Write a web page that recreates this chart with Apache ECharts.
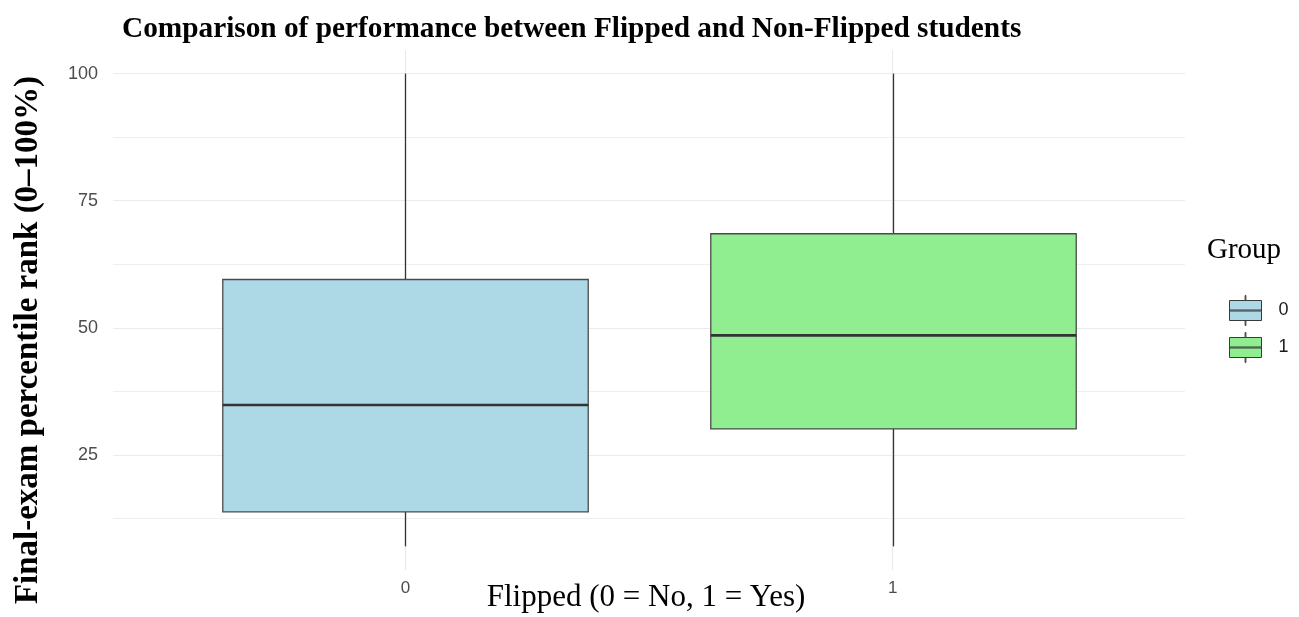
<!DOCTYPE html>
<html>
<head>
<meta charset="utf-8">
<script src="https://cdn.jsdelivr.net/npm/echarts@6/dist/echarts.min.js"></script>
<style>
html,body{margin:0;padding:0;background:#fff;}
#chart{width:1299px;height:617px;}
</style>
</head>
<body>
<div id="chart"></div>
<script>
// ---- data ----
const groups = ['0', '1'];
const groupColors = ['#ADD8E6', '#90EE90'];
const whiskerLow = [7.0, 7.0];
const q1 = [13.8, 30.1];
const medians = [34.8, 48.5];
const q3 = [59.5, 68.5];
const whiskerHigh = [100, 100];
const yTickLabels = [25, 50, 75, 100];
const yMinorGrid = [12.5, 37.5, 62.5, 87.5];

const chart = echarts.init(document.getElementById('chart'), null, {renderer: 'canvas'});

function renderBox(params, api) {
  const x = api.value(0);
  const lo = api.coord([x, api.value(1)]);
  const b1 = api.coord([x, api.value(2)]);
  const md = api.coord([x, api.value(3)]);
  const b3 = api.coord([x, api.value(4)]);
  const hi = api.coord([x, api.value(5)]);
  const w = api.size([0.75, 0])[0];
  const cx = Math.round(lo[0]) + 0.5;
  const left = cx - w / 2;
  const color = api.visual('color');
  return {
    type: 'group',
    children: [
      {type: 'line', shape: {x1: cx, y1: hi[1], x2: cx, y2: b3[1]}, style: {stroke: '#333', lineWidth: 1.3}},
      {type: 'line', shape: {x1: cx, y1: b1[1], x2: cx, y2: lo[1]}, style: {stroke: '#333', lineWidth: 1.3}},
      {type: 'rect', shape: {x: left, y: b3[1], width: w, height: b1[1] - b3[1]}, style: {fill: color, stroke: '#4a4a4a', lineWidth: 1.3}},
      {type: 'line', shape: {x1: left, y1: md[1], x2: left + w, y2: md[1]}, style: {stroke: '#333', lineWidth: 2.6}}
    ]
  };
}

const gridLines = [];
yTickLabels.forEach(v => gridLines.push({yAxis: v, lineStyle: {width: 1.2}}));
yMinorGrid.forEach(v => gridLines.push({yAxis: v, lineStyle: {width: 0.8}}));
[1, 2].forEach(v => gridLines.push({xAxis: v, lineStyle: {width: 1.2}}));

const series = [{
  type: 'line', name: '_grid', data: [], z: 0, silent: true,
  markLine: {silent: true, z: 0, symbol: ['none', 'none'], label: {show: false},
    lineStyle: {color: '#ebebeb', type: 'solid'}, animation: false, data: gridLines}
}];
groups.forEach((g, i) => {
  series.push({
    type: 'custom', name: g, z: 3,
    itemStyle: {color: groupColors[i]},
    renderItem: renderBox,
    encode: {x: 0, y: [1, 2, 3, 4, 5]},
    data: [[i + 1, whiskerLow[i], q1[i], medians[i], q3[i], whiskerHigh[i]]]
  });
});

const iconPath = 'path://M15.6 0H16.4V5H15.6Z M0 5H32V25H0Z M15.6 25H16.4V30H15.6Z M0 14.5H32V15.5H0Z';

chart.setOption({
  animation: false,
  backgroundColor: '#fff',
  grid: {left: 113, right: 114, top: 50, bottom: 47, containLabel: false, outerBoundsMode: 'none'},
  xAxis: {
    type: 'value', min: 0.4, max: 2.6,
    axisLine: {show: false}, axisTick: {show: false}, splitLine: {show: false},
    axisLabel: {customValues: [1, 2], formatter: v => groups[Math.round(v) - 1], margin: 10,
      color: '#4d4d4d', fontSize: 17, fontFamily: 'Liberation Sans, Arial, sans-serif'}
  },
  yAxis: {
    type: 'value', min: 2.35, max: 104.65,
    axisLine: {show: false}, axisTick: {show: false}, splitLine: {show: false},
    axisLabel: {customValues: yTickLabels, margin: 15, color: '#4d4d4d', fontSize: 18, padding: [5, 0, 0, 0],
      fontFamily: 'Liberation Sans, Arial, sans-serif'}
  },
  legend: {
    data: groups, orient: 'vertical', left: 1224, top: 290,
    itemWidth: 32, itemHeight: 30, itemGap: 6,
    icon: iconPath,
    itemStyle: {borderColor: '#3a3a3a', borderWidth: 1},
    textStyle: {fontSize: 18, color: '#1a1a1a', fontFamily: 'Liberation Sans, Arial, sans-serif', padding: [0, 0, 0, 12]}
  },
  graphic: [
    {type: 'text', left: 122, top: 15, style: {text: 'Comparison of performance between Flipped and Non-Flipped students',
      font: 'bold 29.3px "Liberation Serif", "Times New Roman", serif', fill: '#000'}},
    {type: 'text', x: 28, y: 340, rotation: Math.PI / 2, style: {text: 'Final-exam percentile rank (0–100%)',
      font: 'bold 33px "Liberation Serif", "Times New Roman", serif', fill: '#000', align: 'center', verticalAlign: 'middle'}},
    {type: 'text', x: 646, y: 598, style: {text: 'Flipped (0 = No, 1 = Yes)',
      font: '31px "Liberation Serif", "Times New Roman", serif', fill: '#000', align: 'center', verticalAlign: 'middle'}},
    {type: 'text', left: 1207, top: 236, style: {text: 'Group',
      font: '29px "Liberation Serif", "Times New Roman", serif', fill: '#000'}}
  ],
  series: series
});
</script>
</body>
</html>
